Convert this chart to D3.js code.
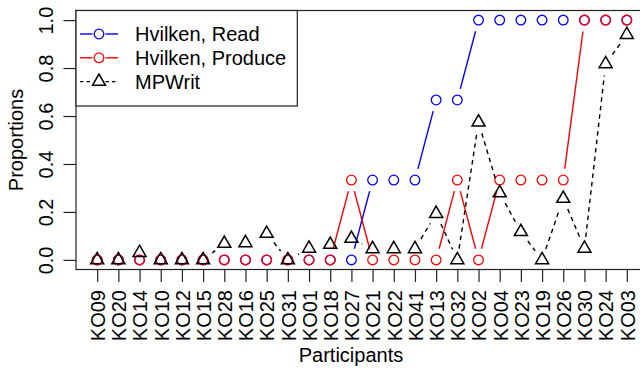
<!DOCTYPE html>
<html>
<head>
<meta charset="utf-8">
<script src="https://cdn.jsdelivr.net/npm/d3@7"></script>
<style>
  body { margin: 0; background: #fff; }
  text { font-family: "Liberation Sans", Arial, sans-serif; font-size: 20px; fill: #000; }
</style>
</head>
<body>
<div class="container"></div>
<script>
const participants = ['KO09','KO20','KO14','KO10','KO12','KO15','KO28','KO16','KO25','KO31',
    'KO01','KO18','KO27','KO21','KO22','KO41','KO13','KO32','KO02','KO04','KO23','KO19',
    'KO26','KO30','KO24','KO03']

const readVals = [0,0,0,0,0,0,0,0,0,0,0,0,0,0.333,0.333,0.333,0.667,0.667,1,1,1,1,1,1,1,1]
const produceVals = [0,0,0,0,0,0,0,0,0,0,0,0,0.333,0,0,0,0,0.333,0,0.333,0.333,0.333,0.333,1,1,1]
const mpwritVals = [0,0,0.03,0,0,0,0.068,0.071,0.11,0,0.048,0.064,0.089,0.046,0.046,0.046,
    0.193,0,0.574,0.279,0.117,0,0.256,0.048,0.817,0.939]

const yTicks = [0, 0.2, 0.4, 0.6, 0.8, 1.0]

const series = [
    { name: 'Hvilken, Read', values: readVals, color: 'blue', pch: 'circle', dash: null },
    { name: 'Hvilken, Produce', values: produceVals, color: 'red', pch: 'circle', dash: null },
    { name: 'MPWrit', values: mpwritVals, color: 'black', pch: 'triangle', dash: '4.5,4' },
]

const W = 640, H = 371
const plot = { left: 76, right: 648, top: 10.5, bottom: 269.5 }
const R = 4.83      // symbol radius
const GAP = 11.5    // type="b" gap round points
const FONT = '"Liberation Sans", Arial, sans-serif'

const svg = d3.select('.container')
    .append('svg')
    .attr('width', W)
    .attr('height', H)

const x = d3.scalePoint()
    .domain(participants)
    .range([plot.left, plot.right])
    .padding(1)

const y = d3.scaleLinear()
    .domain([-0.04, 1.04])
    .range([plot.bottom, plot.top])

// axes
const yAxis = svg.append('g')
    .attr('transform', `translate(${plot.left},0)`)
    .call(d3.axisLeft(y).tickValues(yTicks).tickFormat(d3.format('.1f')).tickSize(12.5))
yAxis.select('.domain').remove()
yAxis.selectAll('line').attr('stroke', '#222').attr('stroke-width', 1.2)
yAxis.selectAll('text')
    .attr('x', 0).attr('y', 0).attr('dy', 0)
    .attr('transform', 'translate(-22.7,0) rotate(-90)')
    .attr('text-anchor', 'middle')
    .style('font-size', '20px')
    .style('font-family', FONT)

const xAxis = svg.append('g')
    .attr('transform', `translate(0,${plot.bottom})`)
    .call(d3.axisBottom(x).tickSize(12.5))
xAxis.select('.domain').remove()
xAxis.selectAll('line').attr('stroke', '#222').attr('stroke-width', 1.2)
xAxis.selectAll('text')
    .attr('x', 0).attr('y', 0).attr('dy', 0)
    .attr('transform', 'translate(7.3,20.5) rotate(-90)')
    .attr('text-anchor', 'end')
    .style('font-size', '20px')
    .style('font-family', FONT)

// box
svg.append('rect')
    .attr('x', plot.left).attr('y', plot.top)
    .attr('width', plot.right - plot.left).attr('height', plot.bottom - plot.top)
    .attr('fill', 'none').attr('stroke', '#222').attr('stroke-width', 1.2)

// titles
svg.append('text')
    .attr('x', 351).attr('y', 361.5)
    .attr('text-anchor', 'middle')
    .text('Participants')
svg.append('text')
    .attr('transform', `translate(22.7,${(plot.top + plot.bottom) / 2}) rotate(-90)`)
    .attr('text-anchor', 'middle')
    .text('Proportions')

const triPath = `M0,${-1.555 * R}L${1.347 * R},${0.778 * R}L${-1.347 * R},${0.778 * R}Z`

function drawSymbol(g, pch, color, px, py) {
    if (pch === 'circle') {
        g.append('circle').attr('cx', px).attr('cy', py).attr('r', R)
            .attr('fill', 'none').attr('stroke', color).attr('stroke-width', 1.3)
    } else {
        g.append('path').attr('d', triPath).attr('transform', `translate(${px},${py})`)
            .attr('fill', 'none').attr('stroke', color).attr('stroke-width', 1.5)
            .attr('stroke-linejoin', 'miter')
    }
}

// series, drawn like R type="b"
series.forEach(s => {
    const g = svg.append('g')
    const pts = s.values.map((v, i) => [x(participants[i]), y(v)])
    for (let i = 0; i < pts.length - 1; i++) {
        const [x1, y1] = pts[i], [x2, y2] = pts[i + 1]
        const len = Math.hypot(x2 - x1, y2 - y1)
        if (len <= 2 * GAP) continue
        const ux = (x2 - x1) / len, uy = (y2 - y1) / len
        g.append('line')
            .attr('x1', x1 + ux * GAP).attr('y1', y1 + uy * GAP)
            .attr('x2', x2 - ux * GAP).attr('y2', y2 - uy * GAP)
            .attr('stroke', s.color).attr('stroke-width', 1.4)
            .attr('stroke-dasharray', s.dash)
    }
    pts.forEach(p => drawSymbol(g, s.pch, s.color, p[0], p[1]))
})

// legend
const legend = svg.append('g')
legend.append('rect')
    .attr('x', plot.left).attr('y', plot.top)
    .attr('width', 297.3 - plot.left).attr('height', 106 - plot.top)
    .attr('fill', '#fff').attr('stroke', '#222').attr('stroke-width', 1.2)

series.forEach((s, i) => {
    const ly = 34 + i * 23.8
    const cx = 99
    legend.append('line')
        .attr('x1', 80).attr('x2', cx - 6.5).attr('y1', ly).attr('y2', ly)
        .attr('stroke', s.color).attr('stroke-width', 1.4).attr('stroke-dasharray', s.dash ? '3.5,3' : null)
    legend.append('line')
        .attr('x1', cx + 6.5).attr('x2', 118).attr('y1', ly).attr('y2', ly)
        .attr('stroke', s.color).attr('stroke-width', 1.4).attr('stroke-dasharray', s.dash ? '3.5,3' : null)
    drawSymbol(legend, s.pch, s.color, cx, ly)
    legend.append('text')
        .attr('x', 135).attr('y', ly + 7)
        .text(s.name)
})
</script>
</body>
</html>
